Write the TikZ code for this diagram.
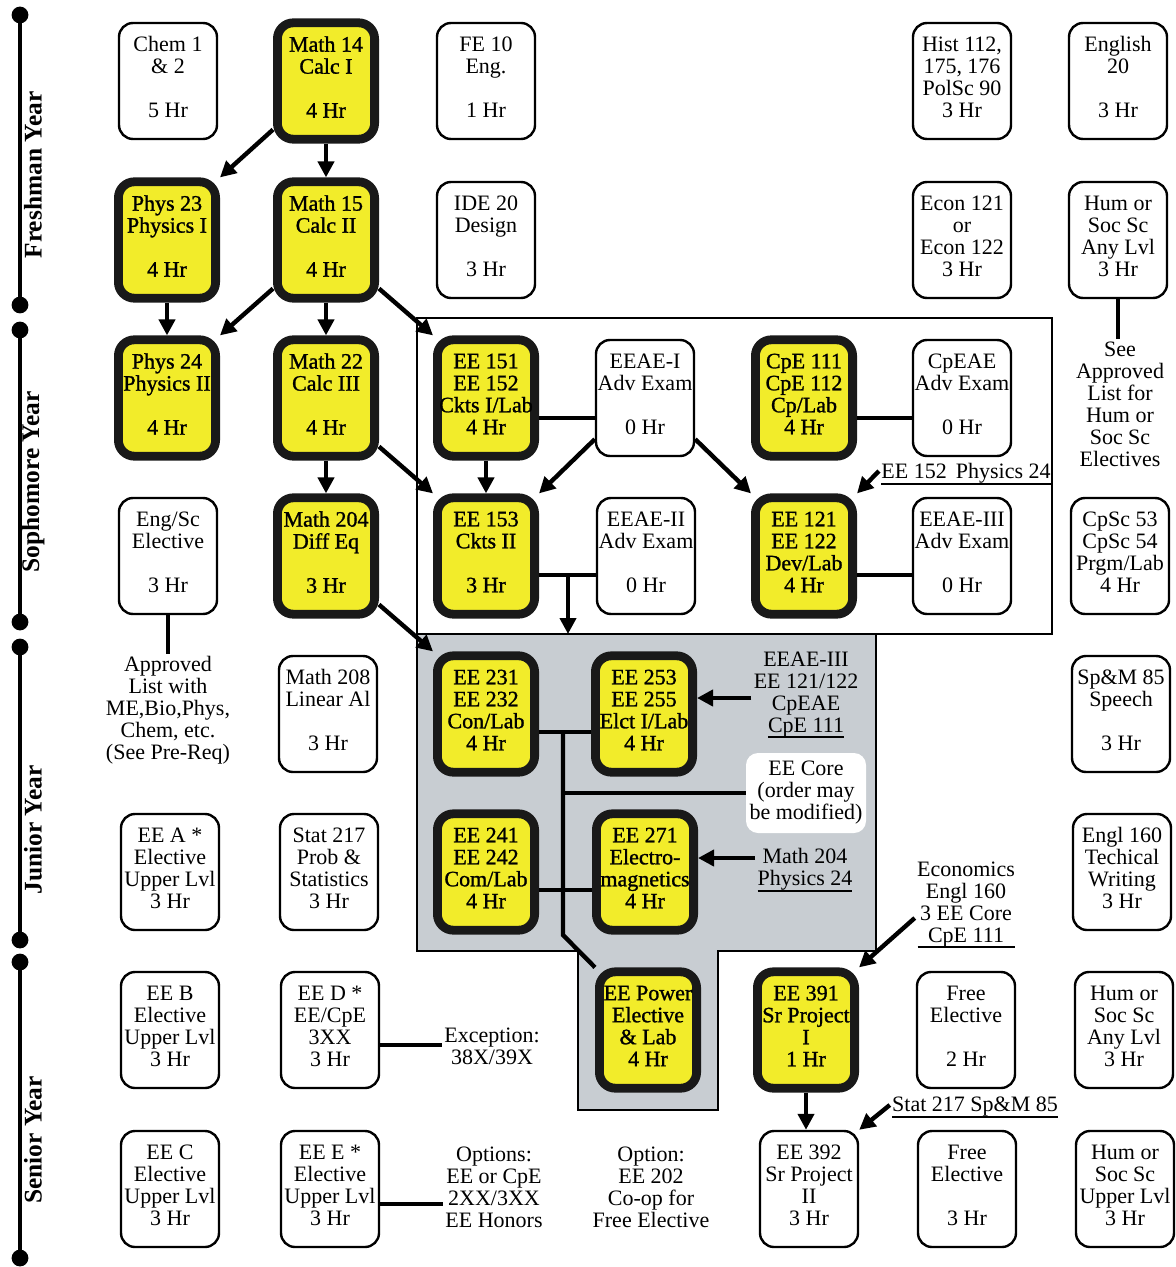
\documentclass[tikz,border=0pt]{standalone}
\usepackage{fontspec}
\setmainfont{Liberation Serif}
\newfontfamily\yfont{Liberation Serif}[FakeBold=1.2]
\usetikzlibrary{arrows.meta,calc}
\definecolor{cyell}{RGB}{242,236,42}
\definecolor{cgray}{RGB}{200,205,210}
\newcommand\fs{\fontsize{11}{11}\selectfont}
\newcommand\fsy{\yfont\fontsize{11}{11}\selectfont}
\newcommand\ulx[1]{\setbox0=\hbox{#1}\rlap{\rule[-3.2pt]{\wd0}{1pt}}\box0}
\tikzset{
  wbox/.style={draw, line width=1.2pt, rounded corners=7pt, fill=white,
    minimum width=49pt, minimum height=58pt, align=center, inner sep=0.5pt, font=\fs,
    execute at end node={\rule[-4pt]{0pt}{0pt}}},
  ybox/.style={draw=black!90, line width=4.4pt, rounded corners=8pt, fill=cyell,
    minimum width=48.6pt, minimum height=58.2pt, align=center, inner sep=0pt, font=\fsy,
    execute at end node={\rule[-4pt]{0pt}{0pt}}},
  note/.style={align=center, inner sep=1pt, font=\fs},
  yr/.style={rotate=90, inner sep=0pt, font=\bfseries\fontsize{12.7}{13}\selectfont},
  conn/.style={line width=2.2pt},
  arr/.style={conn, -{Triangle[length=8pt,width=8pt]}},
  yl/.style={line width=2pt},
}
\begin{document}
\begin{tikzpicture}[x=0.5pt,y=-0.5pt]
\useasboundingbox (0,0) rectangle (1175,1267);
% frames
\draw[line width=1.1pt] (417,318) rectangle (1052,634);
\draw[fill=cgray, line width=1.1pt] (417,634) -- (876,634) -- (876,951) -- (718,951)
  -- (718,1110) -- (578,1110) -- (578,951) -- (417,951) -- cycle;
% year scale
\draw[yl] (20,15) -- (20,305);
\draw[yl] (20,330) -- (20,622);
\draw[yl] (20,647) -- (20,940);
\draw[yl] (20,962) -- (20,1258);
\foreach \yy in {15,305,330,622,647,940,962,1258} \fill (20,\yy) circle[radius=4.2pt];
\node[yr] (fy) at (33,175) {Freshman Year};
\node[yr] (sy) at (33,482) {Sophomore Year};
\node[yr] (jy) at (33,830) {Junior Year};
\node[yr] (sny) at (33,1140) {Senior Year};
% row 1
\node[wbox] (chem) at (168,81) {Chem 1\\\& 2\\[11pt]5 Hr};
\node[ybox] (m14) at (326,81) {Math 14\\Calc I\\[11pt]4 Hr};
\node[wbox] (fe10) at (486,81) {FE 10\\Eng.\\[11pt]1 Hr};
\node[wbox] (hist) at (962,81) {Hist 112,\\175, 176\\PolSc 90\\3 Hr};
\node[wbox] (engl) at (1118,81) {English\\20\\[11pt]3 Hr};
% row 2
\node[ybox] (p23) at (167,240) {Phys 23\\Physics I\\[11pt]4 Hr};
\node[ybox] (m15) at (326,240) {Math 15\\Calc II\\[11pt]4 Hr};
\node[wbox] (ide) at (486,240) {IDE 20\\Design\\[11pt]3 Hr};
\node[wbox] (econ) at (962,240) {Econ 121\\or\\Econ 122\\3 Hr};
\node[wbox] (hum1) at (1118,240) {Hum or\\Soc Sc\\Any Lvl\\3 Hr};
% row 3
\node[ybox] (p24) at (167,398) {Phys 24\\Physics II\\[11pt]4 Hr};
\node[ybox] (m22) at (326,398) {Math 22\\Calc III\\[11pt]4 Hr};
\node[ybox] (ee151) at (486,398) {EE 151\\EE 152\\Ckts I/Lab\\4 Hr};
\node[wbox] (eeae1) at (645,398) {EEAE-I\\Adv Exam\\[11pt]0 Hr};
\node[ybox] (cpe111) at (804,398) {CpE 111\\CpE 112\\Cp/Lab\\4 Hr};
\node[wbox] (cpeae) at (962,398) {CpEAE\\Adv Exam\\[11pt]0 Hr};
\node[note] (seel) at (1120,404) {See\\Approved\\List for\\Hum or\\Soc Sc\\Electives};
% row 4
\node[wbox] (engsc) at (168,556) {Eng/Sc\\Elective\\[11pt]3 Hr};
\node[ybox] (m204) at (326,556) {Math 204\\Diff Eq\\[11pt]3 Hr};
\node[ybox] (ee153) at (486,556) {EE 153\\Ckts II\\[11pt]3 Hr};
\node[wbox] (eeae2) at (646,556) {EEAE-II\\Adv Exam\\[11pt]0 Hr};
\node[ybox] (ee121) at (804,556) {EE 121\\EE 122\\Dev/Lab\\4 Hr};
\node[wbox] (eeae3) at (962,556) {EEAE-III\\Adv Exam\\[11pt]0 Hr};
\node[wbox] (cpsc) at (1120,556) {CpSc 53\\CpSc 54\\Prgm/Lab\\4 Hr};
\node[note] (lab3) at (966,474) {\ulx{EE 152\ \,Physics 24}};
% row 5
\node[note] (appl) at (168,710) {Approved\\List with\\ME,Bio,Phys,\\Chem, etc.\\(See Pre-Req)};
\node[wbox] (m208) at (328,714) {Math 208\\Linear Al\\[11pt]3 Hr};
\node[ybox] (ee231) at (486,714) {EE 231\\EE 232\\Con/Lab\\4 Hr};
\node[ybox] (ee253) at (644,714) {EE 253\\EE 255\\Elct I/Lab\\4 Hr};
\node[note] (lab1) at (806,695) {EEAE-III\\EE 121/122\\CpEAE\\\ulx{CpE 111}};
\node[fill=white, rounded corners=6pt, minimum width=60pt, minimum height=40pt,
  align=center, font=\fs, inner sep=1pt] (core) at (806,793) {EE Core\\(order may\\be modified)};
\node[wbox] (spm) at (1121,714) {Sp\&M 85\\Speech\\[11pt]3 Hr};
% row 6
\node[wbox] (eea) at (170,872) {EE A *\\Elective\\Upper Lvl\\3 Hr};
\node[wbox] (stat) at (329,872) {Stat 217\\Prob \&\\Statistics\\3 Hr};
\node[ybox] (ee241) at (486,872) {EE 241\\EE 242\\Com/Lab\\4 Hr};
\node[ybox] (ee271) at (645,872) {EE 271\\Electro-\\magnetics\\4 Hr};
\node[note] (lab2) at (805,870) {Math 204\\\ulx{Physics 24}};
\node[note] (lab4) at (966,905) {Economics\\Engl 160\\3 EE Core\\\ulx{\makebox[48.5pt]{CpE 111}}};
\node[wbox] (engl160) at (1122,872) {Engl 160\\Techical\\Writing\\3 Hr};
% row 7
\node[wbox] (eeb) at (170,1030) {EE B\\Elective\\Upper Lvl\\3 Hr};
\node[wbox] (eed) at (330,1030) {EE D *\\EE/CpE\\3XX\\3 Hr};
\node[note] (exc) at (492,1046) {Exception:\\38X/39X};
\node[ybox] (eepow) at (648,1030) {EE Power\\Elective\\\& Lab\\4 Hr};
\node[ybox] (ee391) at (806,1030) {EE 391\\Sr Project\\I\\1 Hr};
\node[wbox] (free1) at (966,1030) {Free\\Elective\\[11pt]2 Hr};
\node[wbox] (hum2) at (1124,1030) {Hum or\\Soc Sc\\Any Lvl\\3 Hr};
\node[note] (lab5) at (975,1107) {\ulx{Stat 217 Sp\&M 85}};
% row 8
\node[wbox] (eec) at (170,1189) {EE C\\Elective\\Upper Lvl\\3 Hr};
\node[wbox] (eee) at (330,1189) {EE E *\\Elective\\Upper Lvl\\3 Hr};
\node[note] (opts) at (494,1187) {Options:\\EE or CpE\\2XX/3XX\\EE Honors};
\node[note] (opt) at (651,1187) {Option:\\EE 202\\Co-op for\\Free Elective};
\node[wbox] (ee392) at (809,1189) {EE 392\\Sr Project\\II\\3 Hr};
\node[wbox] (free2) at (967,1189) {Free\\Elective\\[11pt]3 Hr};
\node[wbox] (hum3) at (1125,1189) {Hum or\\Soc Sc\\Upper Lvl\\3 Hr};
% connectors
\draw[arr] ($(m14.south west)+(0,-14)$) -- (p23.north east);
\draw[arr] (m14) -- (m15);
\draw[arr] ($(m15.south west)+(0,-14)$) -- (p24.north east);
\draw[arr] (p23) -- (p24);
\draw[arr] (m15) -- (m22);
\draw[arr] ($(m15.south east)+(0,-14)$) -- (ee151.north west);
\draw[arr] ($(m22.south east)+(0,-14)$) -- (ee153.north west);
\draw[arr] (m22) -- (m204);
\draw[arr] ($(m204.south east)+(0,-14)$) -- (ee231.north west);
\draw[arr] (ee151) -- (ee153);
\draw[conn] ($(ee151.east)+(0,20)$) -- ($(eeae1.west)+(0,20)$);
\draw[arr] ($(eeae1.south west)+(0,-18)$) -- (ee153.north east);
\draw[arr] ($(eeae1.south east)+(0,-18)$) -- (ee121.north west);
\draw[conn] ($(cpe111.east)+(0,20)$) -- ($(cpeae.west)+(0,20)$);
\draw[conn] ($(ee153.east)+(0,19)$) -- ($(eeae2.west)+(0,19)$);
\coordinate (j1) at (568,575);
\coordinate (gtop) at (568,634);
\draw[arr] (j1) -- (gtop);
\draw[conn] ($(ee121.east)+(0,19)$) -- ($(eeae3.west)+(0,19)$);
\draw[conn] ($(ee231.east)+(0,18)$) -- ($(ee253.west)+(0,18)$);
\coordinate (b1) at (563,732);
\coordinate (b2) at (563,935);
\draw[conn] (b1) -- (b2) -- (eepow.north west);
\draw[conn] (b1 |- core.west) -- (core.west);
\draw[conn] ($(ee241.east)+(0,18)$) -- ($(ee271.west)+(0,18)$);
\coordinate (t1) at ($(ee253.east)+(0,-16)$);
\draw[arr] (lab1.west |- t1) -- (t1);
\coordinate (t2) at ($(ee271.east)+(0,-14)$);
\draw[arr] (lab2.west |- t2) -- (t2);
\draw[arr] ($(lab3.west)+(0,-3)$) -- (ee121.north east);
\draw[arr] ($(lab4.west)+(0,13)$) -- (ee391.north east);
\draw[arr] (ee391.south) -- (ee391.south |- ee392.north);
\draw[arr] ($(lab5.west)+(0,-2)$) -- (ee392.north east);
\draw[conn] (hum1.south) -- (hum1.south |- seel.north);
\draw[conn] (engsc.south) -- (engsc.south |- appl.north);
\coordinate (e1) at ($(eed.east)+(0,15)$);
\draw[conn] (e1) -- (exc.west |- e1);
\coordinate (e2) at ($(eee.east)+(0,15)$);
\draw[conn] (e2) -- (opts.west |- e2);
\end{tikzpicture}
\end{document}
